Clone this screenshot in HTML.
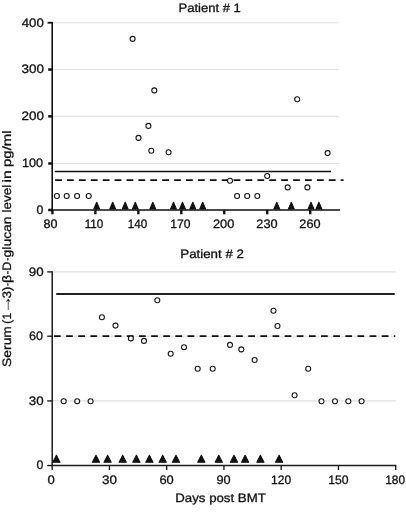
<!DOCTYPE html>
<html><head><meta charset="utf-8"><title>Serum glucan levels</title>
<style>
html,body{margin:0;padding:0;background:#fff;}
body{width:406px;height:520px;overflow:hidden;}
svg{display:block;will-change:transform;}
text{text-rendering:geometricPrecision;font-family:"Liberation Sans",Arial,Helvetica,sans-serif;font-size:12.2px;fill:#111;stroke:#111;stroke-width:0.3;}
.ax{stroke:#111;stroke-width:1.6;fill:none;}
.tk{stroke:#111;stroke-width:2.1;fill:none;}
.ax2{stroke:#1c1c1c;stroke-width:1.5;fill:none;}
.tk2{stroke:#111;stroke-width:1.3;fill:none;}
.grid{stroke:#e0e0e0;stroke-width:1.1;fill:none;}
.c{fill:#fff;stroke:#161616;stroke-width:1.1;}
.t{fill:#111;stroke:#111;stroke-width:1.1;stroke-linejoin:round;}
</style></head><body>
<svg width="406" height="520" viewBox="0 0 406 520">
<rect x="0" y="0" width="406" height="520" fill="#fff"/>
<g id="chart1">
<line class="grid" x1="52.9" y1="163.5" x2="338.8" y2="163.5"/>
<line class="grid" x1="52.9" y1="116.36" x2="338.8" y2="116.36"/>
<line class="grid" x1="52.9" y1="69.54" x2="338.8" y2="69.54"/>
<line class="grid" x1="52.9" y1="22.72" x2="338.8" y2="22.72"/>
<line x1="54.8" y1="171.4" x2="331" y2="171.4" stroke="#111" stroke-width="1.45"/>
<line x1="55.1" y1="180.2" x2="343.5" y2="180.2" stroke="#111" stroke-width="1.8" stroke-dasharray="6.8 5.1"/>
<path class="ax" d="M52.2 22.02 V210 H340"/>
<line class="tk" style="stroke-width:2.5" x1="48.2" y1="210" x2="52.2" y2="210"/>
<line class="tk" style="stroke-width:2.5" x1="48.2" y1="163.5" x2="52.2" y2="163.5"/>
<line class="tk" style="stroke-width:2.5" x1="48.2" y1="116.36" x2="52.2" y2="116.36"/>
<line class="tk" style="stroke-width:2.5" x1="48.2" y1="69.54" x2="52.2" y2="69.54"/>
<line class="tk" style="stroke-width:1.8" x1="47.6" y1="22.72" x2="52.2" y2="22.72"/>
<line class="tk" style="stroke-width:2.4" x1="52.4" y1="210" x2="52.4" y2="214.3"/>
<line class="tk" style="stroke-width:2.4" x1="95.37" y1="210" x2="95.37" y2="214.3"/>
<line class="tk" style="stroke-width:2.4" x1="138.34" y1="210" x2="138.34" y2="214.3"/>
<line class="tk" style="stroke-width:2.4" x1="181.31" y1="210" x2="181.31" y2="214.3"/>
<line class="tk" style="stroke-width:2.4" x1="224.28" y1="210" x2="224.28" y2="214.3"/>
<line class="tk" style="stroke-width:2.4" x1="267.25" y1="210" x2="267.25" y2="214.3"/>
<line class="tk" style="stroke-width:2.4" x1="310.22" y1="210" x2="310.22" y2="214.3"/>
<text x="36.44" y="213.9" textLength="6.84" lengthAdjust="spacingAndGlyphs">0</text>
<text x="22" y="167.4" textLength="21.08" lengthAdjust="spacingAndGlyphs">100</text>
<text x="21.41" y="120.26" textLength="22.5" lengthAdjust="spacingAndGlyphs">200</text>
<text x="21.42" y="73.44" textLength="22.49" lengthAdjust="spacingAndGlyphs">300</text>
<text x="21.74" y="26.62" textLength="22.06" lengthAdjust="spacingAndGlyphs">400</text>
<text x="43.6" y="228.4" textLength="13.99" lengthAdjust="spacingAndGlyphs">80</text>
<text x="84.68" y="228.4" textLength="18.56" lengthAdjust="spacingAndGlyphs">110</text>
<text x="127.66" y="228.4" textLength="19.49" lengthAdjust="spacingAndGlyphs">140</text>
<text x="170.33" y="228.4" textLength="20.24" lengthAdjust="spacingAndGlyphs">170</text>
<text x="212.94" y="228.4" textLength="21.34" lengthAdjust="spacingAndGlyphs">200</text>
<text x="256.34" y="228.4" textLength="21.34" lengthAdjust="spacingAndGlyphs">230</text>
<text x="299.35" y="228.4" textLength="21.24" lengthAdjust="spacingAndGlyphs">260</text>
<circle class="c" cx="56.9" cy="196" r="2.5"/>
<circle class="c" cx="66.7" cy="196" r="2.5"/>
<circle class="c" cx="77.1" cy="196" r="2.5"/>
<circle class="c" cx="88.7" cy="196" r="2.5"/>
<circle class="c" cx="132.6" cy="38.9" r="2.5"/>
<circle class="c" cx="138.5" cy="137.9" r="2.5"/>
<circle class="c" cx="148.4" cy="125.9" r="2.5"/>
<circle class="c" cx="151.3" cy="150.7" r="2.5"/>
<circle class="c" cx="154.3" cy="90.4" r="2.5"/>
<circle class="c" cx="168.6" cy="152.2" r="2.5"/>
<circle class="c" cx="230" cy="180.7" r="2.5"/>
<circle class="c" cx="237.1" cy="196" r="2.5"/>
<circle class="c" cx="247.2" cy="196" r="2.5"/>
<circle class="c" cx="257.3" cy="196" r="2.5"/>
<circle class="c" cx="267.2" cy="176" r="2.5"/>
<circle class="c" cx="287.7" cy="187.4" r="2.5"/>
<circle class="c" cx="297.2" cy="99.2" r="2.5"/>
<circle class="c" cx="307.4" cy="187.4" r="2.5"/>
<circle class="c" cx="327.6" cy="153.1" r="2.5"/>
<path class="t" d="M96.7 202.2 L99.6 208.9 H93.8 Z"/>
<path class="t" d="M112.7 202.2 L115.6 208.9 H109.8 Z"/>
<path class="t" d="M125.2 202.2 L128.1 208.9 H122.3 Z"/>
<path class="t" d="M135.3 202.2 L138.2 208.9 H132.4 Z"/>
<path class="t" d="M152.8 202.2 L155.7 208.9 H149.9 Z"/>
<path class="t" d="M173.5 202.2 L176.4 208.9 H170.6 Z"/>
<path class="t" d="M182.5 202.2 L185.4 208.9 H179.6 Z"/>
<path class="t" d="M192.8 202.2 L195.7 208.9 H189.9 Z"/>
<path class="t" d="M202.7 202.2 L205.6 208.9 H199.8 Z"/>
<path class="t" d="M276.8 202.2 L279.7 208.9 H273.9 Z"/>
<path class="t" d="M291.3 202.2 L294.2 208.9 H288.4 Z"/>
<path class="t" d="M311 202.2 L313.9 208.9 H308.1 Z"/>
<path class="t" d="M318.9 202.2 L321.8 208.9 H316 Z"/>
<text x="178.45" y="11.6" textLength="62.39" lengthAdjust="spacingAndGlyphs">Patient # 1</text>
</g>
<g id="chart2">
<line class="grid" x1="52.9" y1="400.9" x2="395.9" y2="400.9"/>
<line class="grid" x1="52.9" y1="336.2" x2="395.9" y2="336.2"/>
<line class="grid" x1="52.9" y1="271.9" x2="395.9" y2="271.9"/>
<line x1="56.2" y1="294" x2="394.7" y2="294" stroke="#222" stroke-width="1.85"/>
<line x1="54.0" y1="336.2" x2="395.2" y2="336.2" stroke="#111" stroke-width="1.75" stroke-dasharray="6.7 5.44"/>
<path class="ax2" d="M52.2 271.3 V465.5 H396.3"/>
<line class="tk2" x1="47.2" y1="465.5" x2="52.2" y2="465.5"/>
<line class="tk2" x1="47.2" y1="400.9" x2="52.2" y2="400.9"/>
<line class="tk2" x1="47.2" y1="336.2" x2="52.2" y2="336.2"/>
<line class="tk2" x1="47.2" y1="271.9" x2="52.2" y2="271.9"/>
<line class="tk2" x1="52.2" y1="465.5" x2="52.2" y2="470"/>
<line class="tk2" x1="109.45" y1="465.5" x2="109.45" y2="470"/>
<line class="tk2" x1="166.7" y1="465.5" x2="166.7" y2="470"/>
<line class="tk2" x1="223.95" y1="465.5" x2="223.95" y2="470"/>
<line class="tk2" x1="281.2" y1="465.5" x2="281.2" y2="470"/>
<line class="tk2" x1="338.45" y1="465.5" x2="338.45" y2="470"/>
<line class="tk2" x1="395.7" y1="465.5" x2="395.7" y2="470"/>
<text x="36.44" y="469.4" textLength="6.84" lengthAdjust="spacingAndGlyphs">0</text>
<text x="28.87" y="404.8" textLength="14.84" lengthAdjust="spacingAndGlyphs">30</text>
<text x="29.07" y="340.1" textLength="14.02" lengthAdjust="spacingAndGlyphs">60</text>
<text x="28.86" y="275.8" textLength="14.85" lengthAdjust="spacingAndGlyphs">90</text>
<text x="47.51" y="483.7" textLength="7.29" lengthAdjust="spacingAndGlyphs">0</text>
<text x="102.06" y="483.7" textLength="14.95" lengthAdjust="spacingAndGlyphs">30</text>
<text x="159.46" y="483.7" textLength="14.34" lengthAdjust="spacingAndGlyphs">60</text>
<text x="216.59" y="483.7" textLength="14.1" lengthAdjust="spacingAndGlyphs">90</text>
<text x="271.04" y="483.7" textLength="20.13" lengthAdjust="spacingAndGlyphs">120</text>
<text x="328.13" y="483.7" textLength="20.34" lengthAdjust="spacingAndGlyphs">150</text>
<text x="385.25" y="483.7" textLength="19.71" lengthAdjust="spacingAndGlyphs">180</text>
<circle class="c" cx="63.7" cy="401.2" r="2.5"/>
<circle class="c" cx="77.2" cy="401.2" r="2.5"/>
<circle class="c" cx="90.6" cy="401.2" r="2.5"/>
<circle class="c" cx="101.9" cy="317.2" r="2.5"/>
<circle class="c" cx="115.5" cy="325.6" r="2.5"/>
<circle class="c" cx="130.9" cy="338.4" r="2.5"/>
<circle class="c" cx="144" cy="340.9" r="2.5"/>
<circle class="c" cx="157.3" cy="300.2" r="2.5"/>
<circle class="c" cx="170.7" cy="353.7" r="2.5"/>
<circle class="c" cx="184" cy="347.3" r="2.5"/>
<circle class="c" cx="197.7" cy="368.8" r="2.5"/>
<circle class="c" cx="212.7" cy="368.8" r="2.5"/>
<circle class="c" cx="230" cy="344.9" r="2.5"/>
<circle class="c" cx="241.3" cy="349.4" r="2.5"/>
<circle class="c" cx="254.6" cy="360" r="2.5"/>
<circle class="c" cx="273.5" cy="310.7" r="2.5"/>
<circle class="c" cx="277.5" cy="326" r="2.5"/>
<circle class="c" cx="294.6" cy="395.2" r="2.5"/>
<circle class="c" cx="308.2" cy="368.8" r="2.5"/>
<circle class="c" cx="321.5" cy="401.2" r="2.5"/>
<circle class="c" cx="335" cy="401.2" r="2.5"/>
<circle class="c" cx="348.3" cy="401.2" r="2.5"/>
<circle class="c" cx="361.6" cy="401.2" r="2.5"/>
<path class="t" d="M56.4 455.3 L60 462.3 H52.8 Z"/>
<path class="t" d="M96 455.3 L99.6 462.3 H92.4 Z"/>
<path class="t" d="M107.6 455.3 L111.2 462.3 H104 Z"/>
<path class="t" d="M122.7 455.3 L126.3 462.3 H119.1 Z"/>
<path class="t" d="M136.4 455.3 L140 462.3 H132.8 Z"/>
<path class="t" d="M149.4 455.3 L153 462.3 H145.8 Z"/>
<path class="t" d="M162.7 455.3 L166.3 462.3 H159.1 Z"/>
<path class="t" d="M176 455.3 L179.6 462.3 H172.4 Z"/>
<path class="t" d="M201.3 455.3 L204.9 462.3 H197.7 Z"/>
<path class="t" d="M218.8 455.3 L222.4 462.3 H215.2 Z"/>
<path class="t" d="M234 455.3 L237.6 462.3 H230.4 Z"/>
<path class="t" d="M245.1 455.3 L248.7 462.3 H241.5 Z"/>
<path class="t" d="M260.4 455.3 L264 462.3 H256.8 Z"/>
<path class="t" d="M279.1 455.3 L282.7 462.3 H275.5 Z"/>
<text x="180.34" y="257.8" textLength="63.55" lengthAdjust="spacingAndGlyphs">Patient # 2</text>
<text x="175.3" y="501.8" textLength="90.48" lengthAdjust="spacingAndGlyphs">Days post BMT</text>
</g>
<g id="ylabel" transform="translate(10.7 366.2) rotate(-90)">
<text><tspan x="-0.71" y="0" textLength="40.76" lengthAdjust="spacingAndGlyphs">Serum</tspan> <tspan x="42.57" y="0" textLength="10.77" lengthAdjust="spacingAndGlyphs">(1</tspan><tspan x="52.28" y="0.7" style="font-size:17px;stroke-width:0" textLength="19.2" lengthAdjust="spacingAndGlyphs">→</tspan><tspan x="68.07" y="0" textLength="11.56" lengthAdjust="spacingAndGlyphs">3)</tspan><tspan x="80.32" y="0" textLength="2.85" lengthAdjust="spacingAndGlyphs">-</tspan><tspan x="83.29" y="0" textLength="8.15" lengthAdjust="spacingAndGlyphs">β</tspan><tspan x="91.87" y="0" textLength="3.47" lengthAdjust="spacingAndGlyphs">-</tspan><tspan x="95.76" y="0" textLength="8.72" lengthAdjust="spacingAndGlyphs">D</tspan><tspan x="105.64" y="0" textLength="2.73" lengthAdjust="spacingAndGlyphs">-</tspan><tspan x="108.79" y="0" textLength="41.01" lengthAdjust="spacingAndGlyphs">glucan</tspan> <tspan x="153.75" y="0" textLength="27.67" lengthAdjust="spacingAndGlyphs">level</tspan> <tspan x="183.75" y="0" textLength="12.2" lengthAdjust="spacingAndGlyphs">in</tspan> <tspan x="199.19" y="0" textLength="36.69" lengthAdjust="spacingAndGlyphs">pg/ml</tspan></text>
</g>
</svg>
</body></html>
